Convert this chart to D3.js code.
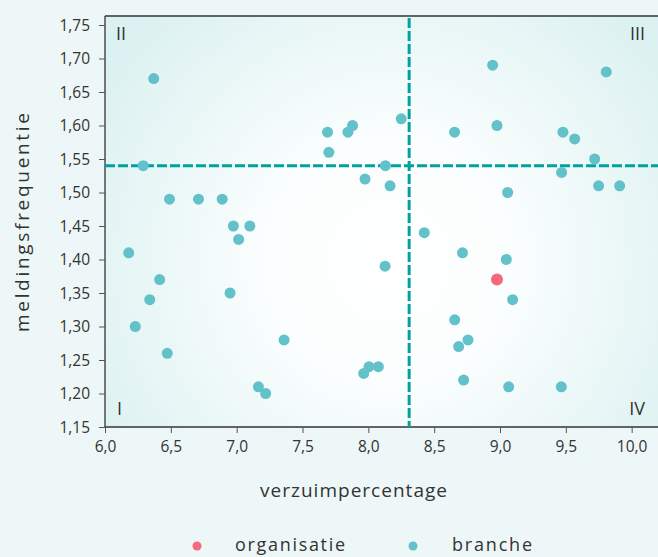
<!DOCTYPE html>
<html><head><meta charset="utf-8">
<script src="https://cdn.jsdelivr.net/npm/d3@7"></script>
<style>
html,body{margin:0;padding:0;background:#eef7f8;}
svg{display:block;}
text{font-family:"Open Sans",Lato,sans-serif;fill:#333;}
</style></head><body>
<svg id="c" width="658" height="557"></svg>
<script>
const xTicks=[6.0,6.5,7.0,7.5,8.0,8.5,9.0,9.5,10.0];
const yTicks=[1.15,1.20,1.25,1.30,1.35,1.40,1.45,1.50,1.55,1.60,1.65,1.70,1.75];
const brancheX=[6.37,6.29,6.49,6.71,6.89,7.69,7.70,7.845,7.88,7.975,8.13,8.165,8.25,8.655,8.944,8.977,9.058,9.478,9.567,9.807,9.719,9.468,9.749,9.909,6.18,6.23,6.34,6.415,6.473,6.975,7.015,7.10,6.95,7.36,7.165,7.22,8.425,8.127,8.715,9.048,9.096,8.656,8.757,8.686,8.005,8.076,7.965,8.724,9.066,9.466];
const brancheY=[1.67,1.54,1.49,1.49,1.49,1.59,1.56,1.59,1.60,1.52,1.54,1.51,1.61,1.59,1.69,1.60,1.50,1.59,1.58,1.68,1.55,1.53,1.51,1.51,1.41,1.30,1.34,1.37,1.26,1.45,1.43,1.45,1.35,1.28,1.21,1.20,1.44,1.39,1.41,1.40,1.34,1.31,1.28,1.27,1.24,1.24,1.23,1.22,1.21,1.21];
const orgX=[8.977];
const orgY=[1.37];
const refX=8.31, refY=1.54;
const quadrants=["I","II","III","IV"];
const legendLabels=["organisatie","branche"];

const svg=d3.select("#c");
const L=105,R=658,T=16,B=427;
const x=d3.scaleLinear().domain([6.0,10.2]).range([L,R]);
const y=d3.scaleLinear().domain([1.15,1.75]).range([B,25]);
const fmt=d=>d3.format(".1f")(d).replace(".",",");
const fmt2=d=>d3.format(".2f")(d).replace(".",",");

const defs=svg.append("defs");
const g=defs.append("radialGradient").attr("id","bg").attr("gradientUnits","userSpaceOnUse")
  .attr("cx",x(refX)-20).attr("cy",(T+B)/2+40).attr("r",340);
g.append("stop").attr("offset","0%").attr("stop-color","#ffffff");
g.append("stop").attr("offset","35%").attr("stop-color","#fbfefe");
g.append("stop").attr("offset","100%").attr("stop-color","#dcf1f1");
svg.append("rect").attr("x",L).attr("y",T).attr("width",R-L).attr("height",B-T).attr("fill","url(#bg)");

// axes
const yAx=svg.append("g").attr("transform",`translate(${L},0)`)
  .call(d3.axisLeft(y).tickValues(yTicks).tickFormat(fmt2).tickSize(6).tickPadding(9));
const xAx=svg.append("g").attr("transform",`translate(0,${B})`)
  .call(d3.axisBottom(x).tickValues(xTicks).tickFormat(fmt).tickSize(6).tickPadding(8));
[yAx,xAx].forEach(a=>{a.selectAll("path").attr("stroke","#333").attr("stroke-width",1.3);
  a.selectAll("line").attr("stroke","#555");
  a.selectAll("text").style("font-size","15.5px").attr("fill","#333").style("font-family","'Open Sans',sans-serif");});
yAx.selectAll("text").attr("dy","0.35em");
yAx.select("path").attr("d",`M0,${B}V${T}`);
xAx.select("path").attr("d",`M${L},0H${R}`);
svg.append("line").attr("x1",L).attr("x2",R).attr("y1",T).attr("y2",T).attr("stroke","#333").attr("stroke-width",1.3);

// reference lines
svg.append("line").attr("x1",x(refX)).attr("x2",x(refX)).attr("y1",T+2).attr("y2",B)
  .attr("stroke","#00a19e").attr("stroke-width",3).attr("stroke-dasharray","10,3");
svg.append("line").attr("x1",L).attr("x2",R).attr("y1",y(refY)).attr("y2",y(refY))
  .attr("stroke","#00a19e").attr("stroke-width",3).attr("stroke-dasharray","10,3");

// quadrant labels
const ql=[[117,415,"start"],[116,39.5,"start"],[645,39.5,"end"],[645,415,"end"]];
quadrants.forEach((q,i)=>svg.append("text").attr("x",ql[i][0]).attr("y",ql[i][1]).attr("text-anchor",ql[i][2])
  .style("font-size","18px").style("font-weight","400").attr("fill","#2a2a2a").text(q));

// points
svg.append("g").selectAll("circle").data(brancheX.map((v,i)=>[v,brancheY[i]])).join("circle")
  .attr("cx",d=>x(d[0])).attr("cy",d=>y(d[1])).attr("r",5.5).attr("fill","#62c1c9");
svg.append("g").selectAll("circle").data(orgX.map((v,i)=>[v,orgY[i]])).join("circle")
  .attr("cx",d=>x(d[0])).attr("cy",d=>y(d[1])).attr("r",6).attr("fill","#f7687c");

// axis titles
svg.append("text").attr("x",260).attr("y",497)
  .attr("textLength",187).attr("lengthAdjust","spacing")
  .style("font-size","19px").text("verzuimpercentage");
svg.append("text").attr("transform",`translate(29,332) rotate(-90)`)
  .attr("textLength",219).attr("lengthAdjust","spacing")
  .style("font-size","19px").text("meldingsfrequentie");

// legend
const lg=[[197,"#f7687c",235,110],[413,"#62c1c9",452,80]];
legendLabels.forEach((t,i)=>{
  svg.append("circle").attr("cx",lg[i][0]).attr("cy",546).attr("r",4.5).attr("fill",lg[i][1]);
  svg.append("text").attr("x",lg[i][2]).attr("y",551).attr("textLength",lg[i][3]).attr("lengthAdjust","spacing")
    .style("font-size","18px").text(t);
});
</script></body></html>
